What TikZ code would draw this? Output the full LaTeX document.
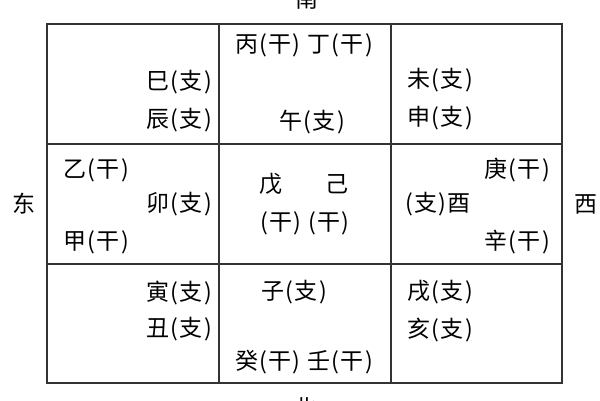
\documentclass[tikz,border=0pt]{standalone}
\usepackage{fontspec}
\setmainfont{Noto Sans CJK SC}
\newfontfamily\gzfont[LetterSpace=6]{Noto Sans CJK SC}
\def\outerbox{(47,24) rectangle (562,383)}

\begin{document}
\begin{tikzpicture}[x=1pt,y=-1pt,
  gz/.style={font=\gzfont\fontsize{23}{23}\selectfont, inner sep=0pt},
  fang/.style={font=\fontsize{23}{23}\selectfont, inner sep=0pt},
  gridline/.style={line width=1.6pt, black!80}]
\useasboundingbox (0,0) rectangle (600,400);

\draw[gridline] \outerbox;
\foreach \x in {219,391}
  \draw[gridline] (\x,24) -- (\x,383);
\foreach \y in {144,264}
  \draw[gridline] (47,\y) -- (562,\y);

% directions
\node[fang] (nan) at (307,-1) {南};
\node[fang] (bei) at (305,408) {北};
\node[fang] (dong) at (24,204) {东};
\node[fang] (xi) at (586,204) {西};

% top row
\node[gz, anchor=east] (si) at (212,82) {巳(支)};
\node[gz, anchor=east] (chen) at (212,120) {辰(支)};
\node[gz] (bingding) at (304,45) {丙(干) 丁(干)};
\node[gz] (wu) at (312,122) {午(支)};
\node[gz, anchor=west] (wei) at (407,80) {未(支)};
\node[gz, anchor=west] (shen) at (407,118) {申(支)};

% middle row
\node[gz, anchor=west] (yi) at (63,170) {乙(干)};
\node[gz, anchor=east] (mao) at (212,204) {卯(支)};
\node[gz, anchor=west] (jia) at (63,242) {甲(干)};
\node[gz] (wugan) at (271,184) {戊};
\node[gz] (ji) at (337,184) {己};
\node[gz] (wuji) at (305,223) {(干) (干)};
\node[gz, anchor=west] (you) at (405,204) {(支)酉};
\node[gz, anchor=east] (geng) at (550,170) {庚(干)};
\node[gz, anchor=east] (xin) at (550,242) {辛(干)};

% bottom row
\node[gz, anchor=east] (yin) at (212,293) {寅(支)};
\node[gz, anchor=east] (chou) at (212,329) {丑(支)};
\node[gz] (zi) at (294,292) {子(支)};
\node[gz] (guiren) at (304,362) {癸(干) 壬(干)};
\node[gz, anchor=west] (xu) at (407,292) {戌(支)};
\node[gz, anchor=west] (hai) at (407,330) {亥(支)};
\end{tikzpicture}
\end{document}
